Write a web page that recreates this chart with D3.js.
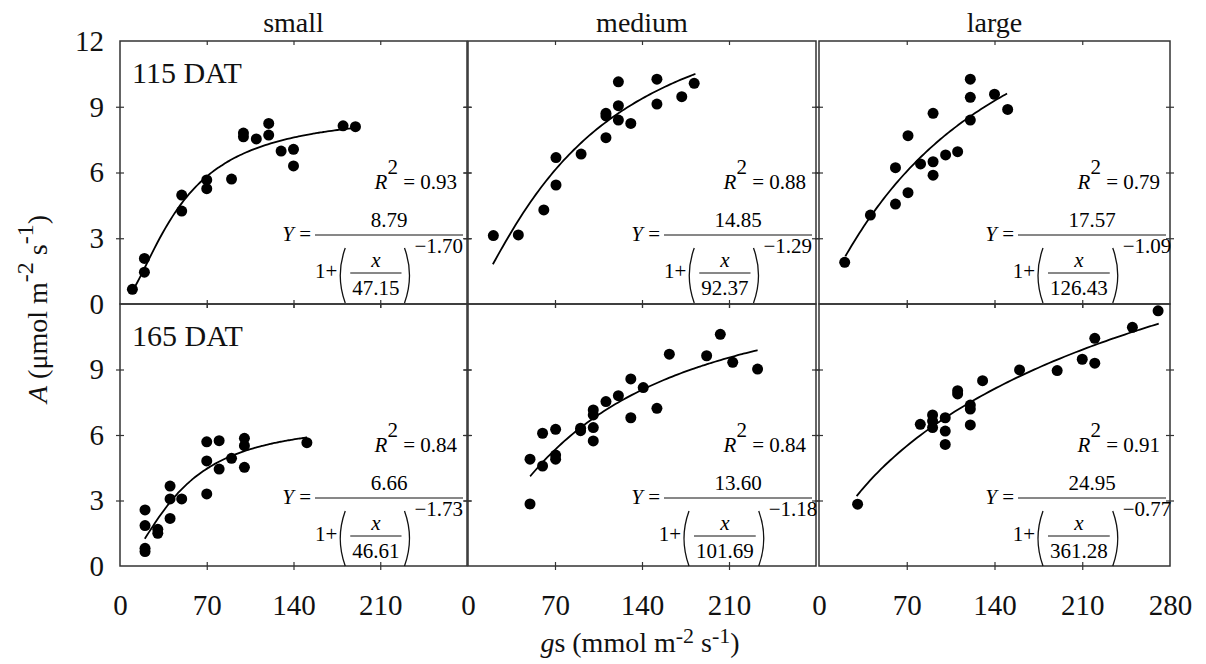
<!DOCTYPE html>
<html>
<head>
<meta charset="utf-8">
<script src="https://cdn.jsdelivr.net/npm/d3@7"></script>
<style>
  body { margin: 0; background: #fff; }
  svg text { font-family: "Liberation Serif", "Times New Roman", serif !important; }
</style>
</head>
<body>
<svg id="chart" width="1206" height="664"></svg>
<script>
const sizes = ["small", "medium", "large"];
const dats = ["115 DAT", "165 DAT"];
const yTickVals = [0, 3, 6, 9, 12];

// [gs, A], one list per panel
const small115 = [[10,0.67],[19.7,1.45],[19.7,2.08],[49.8,4.24],[49.8,4.97],[70,5.26],[70,5.66],[90,5.7],
  [99.6,7.63],[99.6,7.8],[110,7.53],[120,7.71],[120,8.24],[130,6.98],[140,7.06],[140,6.3],[180,8.13],[190,8.09]];
const medium115 = [[20.4,3.12],[40.5,3.15],[61,4.29],[70.8,5.43],[70.8,6.68],[91,6.84],[111,7.59],[111,8.58],
  [111,8.7],[121,9.05],[121,8.39],[121,10.14],[131,8.24],[152,10.26],[152,9.12],[172,9.46],[182,10.07]];
const large115 = [[20.5,1.9],[41,4.06],[61,4.56],[61,6.22],[71,5.08],[71,7.68],[81,6.39],[91,6.49],[91,5.88],
  [91,8.7],[101,6.8],[110.6,6.95],[120.7,8.39],[120.7,9.43],[120.7,10.26],[140,9.57],[150.5,8.88]];
const small165 = [[20.2,0.66],[20.2,0.81],[20.2,1.85],[20.2,2.57],[30.5,1.5],[30.5,1.68],[40.4,2.18],[40.4,3.07],
  [40.4,3.66],[49.8,3.07],[70,3.3],[70,4.81],[70,5.69],[80,4.44],[80,5.74],[90,4.93],[100.4,4.52],[100.4,5.51],
  [100.4,5.85],[150.8,5.65]];
const medium165 = [[49.9,2.84],[49.9,4.89],[60,4.58],[60,6.08],[70.5,5.08],[70.5,4.89],[70.5,6.26],[90.6,6.31],
  [90.6,6.2],[100.8,5.73],[100.8,6.34],[100.8,6.92],[100.8,7.15],[111,7.53],[121,7.8],[131,8.57],[131,6.79],
  [141,8.17],[152,7.22],[162,9.7],[192,9.63],[203,10.61],[213,9.33],[233,9.02]];
const large165 = [[30.8,2.83],[80.8,6.49],[90.6,6.92],[90.6,6.64],[90.6,6.34],[100.7,6.79],[100.7,6.18],
  [100.7,5.57],[110.6,8.03],[110.6,7.88],[120.7,7.37],[120.7,7.19],[120.7,6.46],[130.5,8.49],[160,8.98],
  [190,8.95],[210,9.47],[220,10.43],[220,9.29],[250,10.93],[270.5,11.69]];

const panels = [[small115, medium115, large115], [small165, medium165, large165]];

// fitted curve Y = a / (1 + (x/b)^c)
const fitA = [[8.79, 14.85, 17.57], [6.66, 13.60, 24.95]];
const fitB = [[47.15, 92.37, 126.43], [46.61, 101.69, 361.28]];
const fitC = [[-1.70, -1.29, -1.09], [-1.73, -1.18, -0.77]];
const rSq = [["0.93", "0.88", "0.79"], ["0.84", "0.84", "0.91"]];
const fitFrom = [[12, 20, 21], [20, 50, 30]];
const fitTo = [[191, 183, 150], [151, 233, 271]];

const colL = [120, 468, 819], colR = [467, 816, 1170];
const rowT = [41, 304], rowB = [304, 566];
const axisCol = "#333";

const svg = d3.select("#chart");

function paren(g, x, top, bot, left) {
  const mid = (top + bot) / 2;
  const d = left
    ? `M${x + 7},${top} Q${x - 3},${mid} ${x + 7},${bot}`
    : `M${x},${top} Q${x + 10},${mid} ${x},${bot}`;
  g.append("path").attr("d", d).attr("fill", "none").attr("stroke", "#111").attr("stroke-width", 1.3);
}

function equation(g, R, T, r, c) {
  const fs = 21;
  const r2 = g.append("text").attr("x", R - 10).attr("y", T + 148)
    .attr("text-anchor", "end").attr("font-size", fs);
  r2.append("tspan").attr("font-style", "italic").text("R");
  r2.append("tspan").attr("dy", -15).text("2");
  r2.append("tspan").attr("dy", 15).text(" = " + rSq[r][c]);

  const lineL = R - 152, lineR = R - 4, lineY = T + 194, cx = (lineL + lineR) / 2;
  const ye = g.append("text").attr("x", lineL - 4).attr("y", T + 200)
    .attr("text-anchor", "end").attr("font-size", fs);
  ye.append("tspan").attr("font-style", "italic").text("Y");
  ye.append("tspan").text(" =");
  g.append("line").attr("x1", lineL).attr("x2", lineR).attr("y1", lineY).attr("y2", lineY)
    .attr("stroke", "#111").attr("stroke-width", 1);
  g.append("text").attr("x", cx).attr("y", T + 186).attr("text-anchor", "middle")
    .attr("font-size", fs).text(fitA[r][c].toFixed(2));

  // denominator: 1+ ( x / b ) ^c , laid out left to right then centred
  const dg = g.append("g");
  const one = dg.append("text").attr("x", 0).attr("y", T + 237).attr("font-size", fs).text("1+");
  const w1 = one.node().getComputedTextLength();
  const den = dg.append("text").attr("y", T + 254).attr("font-size", fs)
    .attr("text-anchor", "middle").text(fitB[r][c].toFixed(2));
  const wd = den.node().getComputedTextLength() + 4;
  const p1 = w1 + 1;
  const innerL = p1 + 12;
  const innerC = innerL + wd / 2;
  den.attr("x", innerC);
  dg.append("text").attr("x", innerC).attr("y", T + 226).attr("text-anchor", "middle")
    .attr("font-size", fs).attr("font-style", "italic").text("x");
  dg.append("line").attr("x1", innerL).attr("x2", innerL + wd).attr("y1", T + 232).attr("y2", T + 232)
    .attr("stroke", "#111").attr("stroke-width", 1);
  paren(dg, p1, T + 207, T + 262, true);
  const p2 = innerL + wd + 3;
  paren(dg, p2, T + 207, T + 262, false);
  const ex = dg.append("text").attr("x", p2 + 10).attr("y", T + 212).attr("font-size", fs)
    .text("\u2212" + Math.abs(fitC[r][c]).toFixed(2));
  const total = p2 + 10 + ex.node().getComputedTextLength();
  dg.attr("transform", `translate(${cx - total / 2},0)`);
}

[0, 1].forEach(r => {
  [0, 1, 2].forEach(c => {
    const x = d3.scaleLinear().domain([0, 280]).range([colL[c], colR[c]]);
    const y = d3.scaleLinear().domain([0, 12]).range([rowB[r], rowT[r]]);
    const g = svg.append("g");

    // crossing ticks on all four sides
    const xt = [70, 140, 210];
    const yt = [3, 6, 9];
    [[d3.axisBottom, rowB[r]], [d3.axisTop, rowB[r]], [d3.axisBottom, rowT[r]]].forEach(([ax, yy]) => {
      g.append("g").attr("class", "tk").attr("transform", `translate(0,${yy})`)
        .call(ax(x).tickValues(xt).tickSize(4).tickFormat(""));
    });
    [[d3.axisLeft, colL[c]], [d3.axisRight, colL[c]], [d3.axisLeft, colR[c]], [d3.axisRight, colR[c]]]
      .forEach(([ax, xx]) => {
        g.append("g").attr("class", "tk").attr("transform", `translate(${xx},0)`)
          .call(ax(y).tickValues(yt).tickSize(4).tickFormat(""));
      });
    g.selectAll(".tk .domain").remove();
    g.selectAll(".tk line").attr("stroke", axisCol).attr("stroke-width", 1.2);

    g.append("rect").attr("x", colL[c]).attr("y", rowT[r])
      .attr("width", colR[c] - colL[c]).attr("height", rowB[r] - rowT[r])
      .attr("fill", "none").attr("stroke", axisCol).attr("stroke-width", 1.5);

    // y tick labels on the first column
    if (c === 0) {
      const labs = r === 0 ? yTickVals : yTickVals.filter(v => v < 12);
      const ya = g.append("g").attr("transform", `translate(${colL[0]},0)`)
        .call(d3.axisLeft(y).tickValues(labs).tickSize(0).tickPadding(16));
      ya.select(".domain").remove();
      ya.selectAll("text").attr("font-size", 29).attr("fill", "#111");
    }
    // x tick labels on the bottom row
    if (r === 1) {
      const labs = c === 2 ? [0, 70, 140, 210, 280] : [0, 70, 140, 210];
      const xa = g.append("g").attr("transform", `translate(0,${rowB[1]})`)
        .call(d3.axisBottom(x).tickValues(labs).tickSize(0).tickPadding(28));
      xa.select(".domain").remove();
      xa.selectAll("text").attr("font-size", 29).attr("fill", "#111");
    }

    // fitted curve
    const a = fitA[r][c], b = fitB[r][c], k = fitC[r][c];
    const xs = d3.range(fitFrom[r][c], fitTo[r][c] + 0.01, (fitTo[r][c] - fitFrom[r][c]) / 80);
    g.append("path")
      .datum(xs.map(v => [v, a / (1 + Math.pow(v / b, k))]))
      .attr("d", d3.line().x(d => x(d[0])).y(d => y(d[1])).curve(d3.curveBasis))
      .attr("fill", "none").attr("stroke", "#000").attr("stroke-width", 1.8);

    g.selectAll("circle.pt").data(panels[r][c]).enter().append("circle")
      .attr("class", "pt")
      .attr("cx", d => x(d[0])).attr("cy", d => y(d[1])).attr("r", 5.5).attr("fill", "#000");

    if (c === 0) {
      g.append("text").attr("x", colL[0] + 12).attr("y", rowT[r] + 42)
        .attr("font-size", 30).attr("fill", "#111").text(dats[r]);
    }
    if (r === 0) {
      svg.append("text").attr("x", (colL[c] + colR[c]) / 2).attr("y", 32)
        .attr("text-anchor", "middle").attr("font-size", 28).attr("fill", "#111").text(sizes[c]);
    }
    equation(g, colR[c], rowT[r], r, c);
  });
});

// axis titles
const yl = svg.append("text").attr("transform", "translate(47,309) rotate(-90)")
  .attr("text-anchor", "middle").attr("font-size", 28).attr("fill", "#111");
yl.append("tspan").attr("font-style", "italic").text("A");
yl.append("tspan").text(" (\u03bcmol m");
yl.append("tspan").attr("dy", -14).attr("font-size", 24).text("-2");
yl.append("tspan").attr("dy", 14).text(" s");
yl.append("tspan").attr("dy", -14).attr("font-size", 24).text("-1");
yl.append("tspan").attr("dy", 14).text(")");

const xl = svg.append("text").attr("x", 640).attr("y", 652)
  .attr("text-anchor", "middle").attr("font-size", 28).attr("fill", "#111");
xl.append("tspan").attr("font-style", "italic").text("g");
xl.append("tspan").text("s (mmol m");
xl.append("tspan").attr("dy", -9).attr("font-size", 22).text("-2");
xl.append("tspan").attr("dy", 9).text(" s");
xl.append("tspan").attr("dy", -9).attr("font-size", 22).text("-1");
xl.append("tspan").attr("dy", 9).text(")");
</script>
</body>
</html>
